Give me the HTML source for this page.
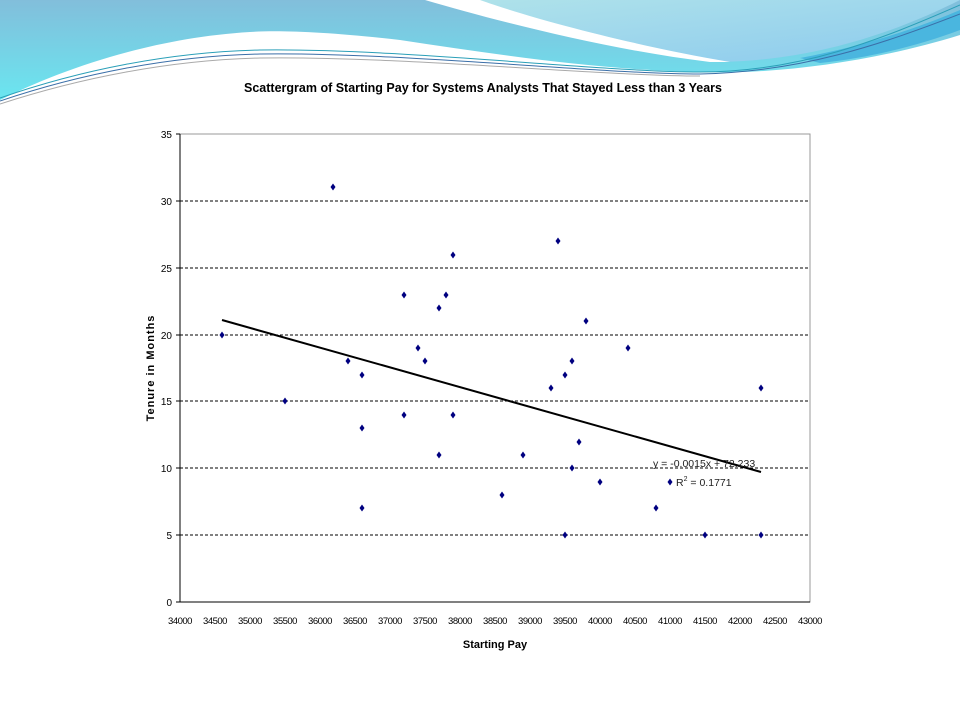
<!DOCTYPE html>
<html><head><style>
body{margin:0;background:#fff;}
svg{display:block;font-family:"Liberation Sans",Arial,sans-serif;}
</style></head><body>
<svg width="960" height="720" viewBox="0 0 960 720" xmlns="http://www.w3.org/2000/svg">
<defs>
<linearGradient id="g1" x1="0" y1="0" x2="0" y2="1">
<stop offset="0" stop-color="#82bedb"/><stop offset="1" stop-color="#6ae6f0"/>
</linearGradient>
<linearGradient id="g2" x1="0" y1="0" x2="1" y2="1">
<stop offset="0" stop-color="#b0e3ea"/><stop offset="1" stop-color="#8ccaee"/>
</linearGradient>
</defs>
<path d="M0,0 H960 V35 C880,60 780,75 700,72 C600,70 500,55 400,40 C330,32 280,30 250,32 C150,38 60,70 0,100 Z" fill="url(#g1)"/>
<path d="M440,0 C520,25 620,50 720,62 C820,60 900,30 960,0 Z" fill="url(#g2)"/>
<path d="M425,0 C500,22 610,50 710,62 L730,62 C630,45 530,18 480,0 Z" fill="#fff"/>
<path d="M800,58 C870,45 925,25 960,10 L960,30 C920,45 870,58 820,63 Z" fill="#4ab6df"/>
<path d="M0,98 C80,70 170,52 260,50 C400,48 600,72 700,72 C800,72 880,40 960,5" fill="none" stroke="#2a9fb8" stroke-width="1"/>
<path d="M0,101 C80,74 170,56 260,54 C400,52 600,74 700,74 C800,72 880,45 960,14" fill="none" stroke="#3b6fa8" stroke-width="1"/>
<path d="M0,104 C80,78 170,60 260,58 C400,56 600,76 700,76" fill="none" stroke="#aaa" stroke-width="1"/>
<text x="483" y="92" text-anchor="middle" font-size="12.5" font-weight="bold" letter-spacing="0">Scattergram of Starting Pay for Systems Analysts That Stayed Less than 3 Years</text>
<g stroke="#000" stroke-width="1" stroke-dasharray="3,2">
<line x1="180" y1="201" x2="810" y2="201"/><line x1="180" y1="268" x2="810" y2="268"/>
<line x1="180" y1="335" x2="810" y2="335"/><line x1="180" y1="401" x2="810" y2="401"/>
<line x1="180" y1="468" x2="810" y2="468"/><line x1="180" y1="535" x2="810" y2="535"/>
</g>
<rect x="180" y="134" width="630" height="468" fill="none" stroke="#999"/>
<line x1="180" y1="134" x2="180" y2="602" stroke="#000"/>
<line x1="180" y1="602" x2="810" y2="602" stroke="#000"/>
<g font-size="10" text-anchor="end">
<text x="172" y="606">0</text><text x="172" y="539">5</text><text x="172" y="472">10</text>
<text x="172" y="405">15</text><text x="172" y="339">20</text><text x="172" y="272">25</text>
<text x="172" y="205">30</text><text x="172" y="138">35</text>
</g>
<g stroke="#000">
<line x1="176" y1="134" x2="180" y2="134"/><line x1="176" y1="201" x2="180" y2="201"/><line x1="176" y1="268" x2="180" y2="268"/><line x1="176" y1="335" x2="180" y2="335"/><line x1="176" y1="401" x2="180" y2="401"/><line x1="176" y1="468" x2="180" y2="468"/><line x1="176" y1="535" x2="180" y2="535"/><line x1="176" y1="602" x2="180" y2="602"/>
</g>
<g font-size="9.5" text-anchor="middle" letter-spacing="-0.5">
<text x="180" y="624">34000</text><text x="215" y="624">34500</text><text x="250" y="624">35000</text><text x="285" y="624">35500</text><text x="320" y="624">36000</text><text x="355" y="624">36500</text><text x="390" y="624">37000</text><text x="425" y="624">37500</text><text x="460" y="624">38000</text><text x="495" y="624">38500</text><text x="530" y="624">39000</text><text x="565" y="624">39500</text><text x="600" y="624">40000</text><text x="635" y="624">40500</text><text x="670" y="624">41000</text><text x="705" y="624">41500</text><text x="740" y="624">42000</text><text x="775" y="624">42500</text><text x="810" y="624">43000</text>
</g>
<text x="495" y="648" font-size="11" font-weight="bold" text-anchor="middle">Starting Pay</text>
<text transform="translate(154,368) rotate(-90)" font-size="11" font-weight="bold" text-anchor="middle" letter-spacing="1">Tenure in Months</text>
<line x1="222" y1="320" x2="761" y2="472" stroke="#000" stroke-width="2"/>
<g fill="#000080">
<path d="M0,-3.5 L2.5,0 L0,3.5 L-2.5,0 Z" transform="translate(222,335)"/>
<path d="M0,-3.5 L2.5,0 L0,3.5 L-2.5,0 Z" transform="translate(285,401)"/>
<path d="M0,-3.5 L2.5,0 L0,3.5 L-2.5,0 Z" transform="translate(333,187)"/>
<path d="M0,-3.5 L2.5,0 L0,3.5 L-2.5,0 Z" transform="translate(348,361)"/>
<path d="M0,-3.5 L2.5,0 L0,3.5 L-2.5,0 Z" transform="translate(362,375)"/>
<path d="M0,-3.5 L2.5,0 L0,3.5 L-2.5,0 Z" transform="translate(362,428)"/>
<path d="M0,-3.5 L2.5,0 L0,3.5 L-2.5,0 Z" transform="translate(362,508)"/>
<path d="M0,-3.5 L2.5,0 L0,3.5 L-2.5,0 Z" transform="translate(404,295)"/>
<path d="M0,-3.5 L2.5,0 L0,3.5 L-2.5,0 Z" transform="translate(404,415)"/>
<path d="M0,-3.5 L2.5,0 L0,3.5 L-2.5,0 Z" transform="translate(418,348)"/>
<path d="M0,-3.5 L2.5,0 L0,3.5 L-2.5,0 Z" transform="translate(425,361)"/>
<path d="M0,-3.5 L2.5,0 L0,3.5 L-2.5,0 Z" transform="translate(439,308)"/>
<path d="M0,-3.5 L2.5,0 L0,3.5 L-2.5,0 Z" transform="translate(439,455)"/>
<path d="M0,-3.5 L2.5,0 L0,3.5 L-2.5,0 Z" transform="translate(446,295)"/>
<path d="M0,-3.5 L2.5,0 L0,3.5 L-2.5,0 Z" transform="translate(453,255)"/>
<path d="M0,-3.5 L2.5,0 L0,3.5 L-2.5,0 Z" transform="translate(453,415)"/>
<path d="M0,-3.5 L2.5,0 L0,3.5 L-2.5,0 Z" transform="translate(502,495)"/>
<path d="M0,-3.5 L2.5,0 L0,3.5 L-2.5,0 Z" transform="translate(523,455)"/>
<path d="M0,-3.5 L2.5,0 L0,3.5 L-2.5,0 Z" transform="translate(551,388)"/>
<path d="M0,-3.5 L2.5,0 L0,3.5 L-2.5,0 Z" transform="translate(558,241)"/>
<path d="M0,-3.5 L2.5,0 L0,3.5 L-2.5,0 Z" transform="translate(565,375)"/>
<path d="M0,-3.5 L2.5,0 L0,3.5 L-2.5,0 Z" transform="translate(565,535)"/>
<path d="M0,-3.5 L2.5,0 L0,3.5 L-2.5,0 Z" transform="translate(572,361)"/>
<path d="M0,-3.5 L2.5,0 L0,3.5 L-2.5,0 Z" transform="translate(572,468)"/>
<path d="M0,-3.5 L2.5,0 L0,3.5 L-2.5,0 Z" transform="translate(579,442)"/>
<path d="M0,-3.5 L2.5,0 L0,3.5 L-2.5,0 Z" transform="translate(586,321)"/>
<path d="M0,-3.5 L2.5,0 L0,3.5 L-2.5,0 Z" transform="translate(600,482)"/>
<path d="M0,-3.5 L2.5,0 L0,3.5 L-2.5,0 Z" transform="translate(628,348)"/>
<path d="M0,-3.5 L2.5,0 L0,3.5 L-2.5,0 Z" transform="translate(656,508)"/>
<path d="M0,-3.5 L2.5,0 L0,3.5 L-2.5,0 Z" transform="translate(670,482)"/>
<path d="M0,-3.5 L2.5,0 L0,3.5 L-2.5,0 Z" transform="translate(705,535)"/>
<path d="M0,-3.5 L2.5,0 L0,3.5 L-2.5,0 Z" transform="translate(761,388)"/>
<path d="M0,-3.5 L2.5,0 L0,3.5 L-2.5,0 Z" transform="translate(761,535)"/>
</g>
<g font-size="10.5" fill="#222">
<text x="653" y="467">y = -0.0015x + 72.233</text>
<text x="676" y="486">R<tspan font-size="7" dy="-5">2</tspan><tspan dy="5"> = 0.1771</tspan></text>
</g>
</svg>
</body></html>
